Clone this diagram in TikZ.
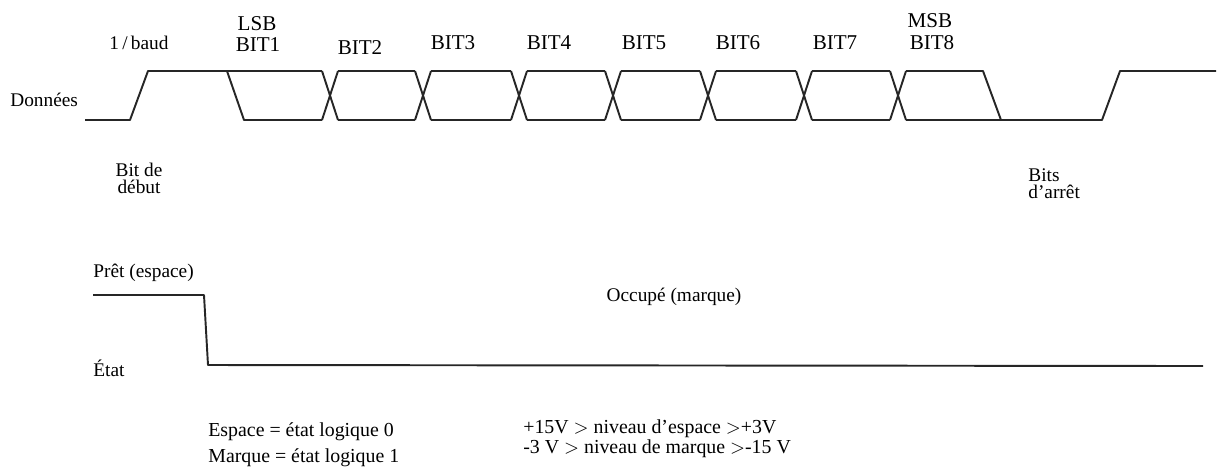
\documentclass[tikz,border=0pt]{standalone}
\usepackage{fontspec}
\setmainfont{Liberation Serif}

\tikzset{
  wave/.style={line width=1.1pt, black!85, line join=round},
  bitlbl/.style={font=\fontsize{12}{11}\selectfont, inner sep=0pt},
  lbl/.style={font=\fontsize{11}{9.8}\selectfont, inner sep=0pt},
  note/.style={font=\fontsize{11.3}{10.2}\selectfont, inner sep=0pt, align=left, anchor=west},
}

\begin{document}
\begin{tikzpicture}[x=0.02cm, y=-0.02cm]
\useasboundingbox (0,0) rectangle (1226,468);
% \draw[step=50,gray,very thin] (0,0) grid (1226,468);

%% labels of the data line
\node[lbl] (donnees) at (10,100) [anchor=west] {Données};
\node[lbl] (baud) at (139,43) {1\,/\,baud};
\node[lbl, align=center] (debut) at (139,178) {Bit de\\début};
\node[lbl, align=left, anchor=west] (arret) at (1028,184) {Bits\\d'arrêt};

\node[bitlbl] (lsb) at (257,24) {LSB};
\node[bitlbl] (bit1) at (258,45) {BIT1};
\node[bitlbl] (bit2) at (360,48) {BIT2};
\node[bitlbl] (bit3) at (453,43) {BIT3};
\node[bitlbl] (bit4) at (549,43) {BIT4};
\node[bitlbl] (bit5) at (644,43) {BIT5};
\node[bitlbl] (bit6) at (738,43) {BIT6};
\node[bitlbl] (bit7) at (835,43) {BIT7};
\node[bitlbl] (msb) at (930,21) {MSB};
\node[bitlbl] (bit8) at (932,43) {BIT8};

%% start bit and BIT1
\draw[wave] (85,120) -- (130,120) -- (148,71) -- (227,71) -- (244,120) -- (322,120);
\draw[wave] (227,71) -- (322,71);

%% BIT2 .. BIT8
\foreach \a/\b in {330/423, 423/519, 519/613, 613/708, 708/804, 804/898} {
  \draw[wave] (\a-8,71) -- (\a+8,120) (\a-8,120) -- (\a+8,71);
  \draw[wave] (\a+8,71) -- (\b-8,71) (\a+8,120) -- (\b-8,120);
}
\draw[wave] (890,71) -- (906,120) (890,120) -- (906,71);

%% stop bits
\draw[wave] (906,71) -- (983,71) -- (1001,120);
\draw[wave] (906,120) -- (1102,120) -- (1120,71) -- (1216,71);

%% state line
\node[lbl, anchor=west] (pret) at (93,273) {Prêt (espace)};
\node[lbl, anchor=west] (etat) at (93,368) {État};
\node[lbl] (occupe) at (674,297) {Occupé (marque)};
\draw[wave] (93,295) -- (204,295) -- (208,365) -- (1203,366);

%% levels
\node[note, font=\fontsize{11.3}{14.7}\selectfont] (logique) at (208,445)
  {Espace = état logique 0\\Marque = état logique 1};
\node[note] (niveaux) at (523,439)
  {+15V $>$ niveau d'espace $>$+3V\\-3 V $>$ niveau de marque $>$-15 V};
\end{tikzpicture}
\end{document}
